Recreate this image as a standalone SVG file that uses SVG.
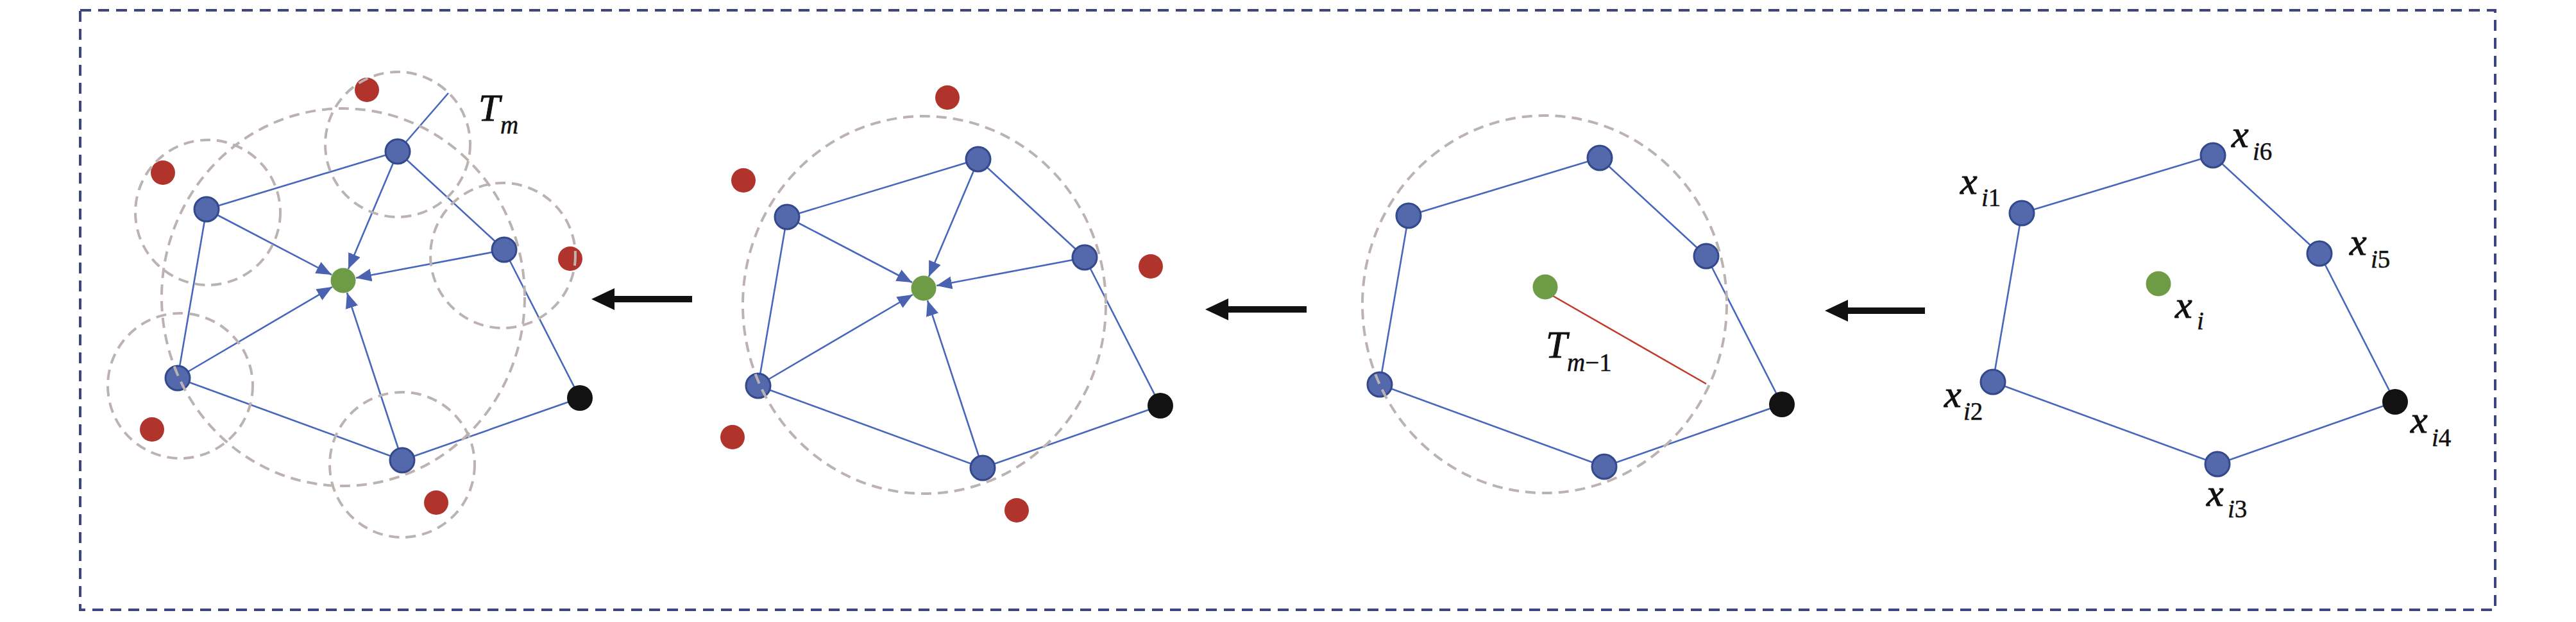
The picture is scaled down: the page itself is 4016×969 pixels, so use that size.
<svg xmlns="http://www.w3.org/2000/svg" width="4016" height="969" viewBox="0 0 4016 969">
<style>
.bg{fill:#ffffff}
.frame{fill:none;stroke:#3D4680;stroke-width:4;stroke-dasharray:17 11}
.edge{fill:none;stroke:#4767BE;stroke-width:2.6}
.arr{fill:none;stroke:#4767BE;stroke-width:2.6;marker-end:url(#ah)}
.blue{fill:#5468AC;stroke:#34488C;stroke-width:3}
.green{fill:#6E9B46}
.black{fill:#121212}
.red{fill:#B0342B}
.dash{fill:none;stroke:#BCB3B1;stroke-width:4;stroke-dasharray:16 10}
.rline{fill:none;stroke:#C0392B;stroke-width:2.5}
.big{fill:#111111}
.mi{font-family:"Liberation Serif","Times New Roman",serif;font-style:italic;font-size:60px;fill:#111;stroke:#111;stroke-width:1}
.sub{font-family:"Liberation Serif","Times New Roman",serif;font-size:39px;fill:#111;stroke:#111;stroke-width:0.5}
.it{font-style:italic}
.up{font-style:normal}
</style>
<defs>
<marker id="ah" markerUnits="userSpaceOnUse" markerWidth="26" markerHeight="22" refX="24" refY="10" orient="auto">
<path d="M0,0 L24,10 L0,20 z" fill="#4A62B0"/>
</marker>
</defs>
<rect class="bg" x="0" y="0" width="4016" height="969"/>
<rect class="frame" x="125" y="16" width="3765" height="934"/>

<!-- transition arrows -->
<g id="transition-arrows">
<path class="big" d="M1079,461 L958,461 L958,449 L922,466 L958,483 L958,471 L1079,471 z"/>
<path class="big" d="M2037,477 L1915,477 L1915,465 L1879,482 L1915,499 L1915,487 L2037,487 z"/>
<path class="big" d="M3001,479 L2881,479 L2881,467 L2845,484 L2881,501 L2881,489 L3001,489 z"/>
</g>

<!-- ================= PANEL 1 ================= -->
<g id="panel1">
<g id="p1-connectors">
<line class="edge" x1="322" y1="326" x2="620" y2="236"/>
<line class="edge" x1="620" y1="236" x2="786" y2="389"/>
<line class="edge" x1="786" y1="389" x2="904" y2="620"/>
<line class="edge" x1="904" y1="620" x2="627" y2="717"/>
<line class="edge" x1="627" y1="717" x2="277" y2="589"/>
<line class="edge" x1="277" y1="589" x2="322" y2="326"/>
<line class="edge" x1="620" y1="236" x2="699" y2="145"/>
<line class="arr" x1="339" y1="335" x2="517" y2="428"/>
<line class="arr" x1="613" y1="254" x2="543" y2="419"/>
<line class="arr" x1="767" y1="393" x2="555" y2="433"/>
<line class="arr" x1="293" y1="579" x2="518" y2="447"/>
<line class="arr" x1="621" y1="699" x2="541" y2="456"/>
</g>
<g id="p1-nodes">
<g id="p1-xi1"><circle class="blue" cx="322" cy="326" r="19"/></g>
<g id="p1-xi6"><circle class="blue" cx="620" cy="236" r="19"/></g>
<g id="p1-xi5"><circle class="blue" cx="786" cy="389" r="19"/></g>
<g id="p1-xi4"><circle class="black" cx="904" cy="620" r="20"/></g>
<g id="p1-xi3"><circle class="blue" cx="627" cy="717" r="19"/></g>
<g id="p1-xi2"><circle class="blue" cx="277" cy="589" r="19"/></g>
<g id="p1-xi"><circle class="green" cx="535" cy="437" r="19.5"/></g>
<g id="p1-r1"><circle class="red" cx="572" cy="140" r="19"/></g>
<g id="p1-r2"><circle class="red" cx="254" cy="269" r="19"/></g>
<g id="p1-r3"><circle class="red" cx="889" cy="403" r="19"/></g>
<g id="p1-r4"><circle class="red" cx="237" cy="669" r="19"/></g>
<g id="p1-r5"><circle class="red" cx="680" cy="783" r="19"/></g>
</g>
<g id="p1-circles">
<ellipse class="dash" cx="535" cy="463" rx="283" ry="294"/>
<circle class="dash" cx="620" cy="225" r="113"/>
<circle class="dash" cx="324" cy="331" r="113"/>
<circle class="dash" cx="784" cy="398" r="113"/>
<circle class="dash" cx="281" cy="601" r="113"/>
<circle class="dash" cx="627" cy="724" r="113"/>
</g>
<g id="p1-label">
<text class="mi" x="746" y="188">T</text>
<text class="sub it" x="780" y="208" font-style="italic">m</text>
</g>
</g>

<!-- ================= PANEL 2 ================= -->
<g id="panel2" transform="translate(905,12)">
<g id="p2-connectors">
<line class="edge" x1="322" y1="326" x2="620" y2="236"/>
<line class="edge" x1="620" y1="236" x2="786" y2="389"/>
<line class="edge" x1="786" y1="389" x2="904" y2="620"/>
<line class="edge" x1="904" y1="620" x2="627" y2="717"/>
<line class="edge" x1="627" y1="717" x2="277" y2="589"/>
<line class="edge" x1="277" y1="589" x2="322" y2="326"/>
<line class="arr" x1="339" y1="335" x2="517" y2="428"/>
<line class="arr" x1="613" y1="254" x2="543" y2="419"/>
<line class="arr" x1="767" y1="393" x2="555" y2="433"/>
<line class="arr" x1="293" y1="579" x2="518" y2="447"/>
<line class="arr" x1="621" y1="699" x2="541" y2="456"/>
</g>
<g id="p2-nodes">
<g id="p2-xi1"><circle class="blue" cx="322" cy="326" r="19"/></g>
<g id="p2-xi6"><circle class="blue" cx="620" cy="236" r="19"/></g>
<g id="p2-xi5"><circle class="blue" cx="786" cy="389" r="19"/></g>
<g id="p2-xi4"><circle class="black" cx="904" cy="620" r="20"/></g>
<g id="p2-xi3"><circle class="blue" cx="627" cy="717" r="19"/></g>
<g id="p2-xi2"><circle class="blue" cx="277" cy="589" r="19"/></g>
<g id="p2-xi"><circle class="green" cx="535" cy="437" r="19.5"/></g>
<g id="p2-r1"><circle class="red" cx="572" cy="140" r="19"/></g>
<g id="p2-r2"><circle class="red" cx="254" cy="269" r="19"/></g>
<g id="p2-r3"><circle class="red" cx="889" cy="403" r="19"/></g>
<g id="p2-r4"><circle class="red" cx="237" cy="669" r="19"/></g>
<g id="p2-r5"><circle class="red" cx="680" cy="783" r="19"/></g>
</g>
<g id="p2-circles">
<ellipse class="dash" cx="536" cy="463" rx="283" ry="294"/>
</g>
</g>

<!-- ================= PANEL 3 ================= -->
<g id="panel3" transform="translate(1874,10)">
<g id="p3-connectors">
<line class="edge" x1="322" y1="326" x2="620" y2="236"/>
<line class="edge" x1="620" y1="236" x2="786" y2="389"/>
<line class="edge" x1="786" y1="389" x2="904" y2="620"/>
<line class="edge" x1="904" y1="620" x2="627" y2="717"/>
<line class="edge" x1="627" y1="717" x2="277" y2="589"/>
<line class="edge" x1="277" y1="589" x2="322" y2="326"/>
<line class="rline" x1="547" y1="451" x2="786" y2="588"/>
</g>
<g id="p3-nodes">
<g id="p3-xi1"><circle class="blue" cx="322" cy="326" r="19"/></g>
<g id="p3-xi6"><circle class="blue" cx="620" cy="236" r="19"/></g>
<g id="p3-xi5"><circle class="blue" cx="786" cy="389" r="19"/></g>
<g id="p3-xi4"><circle class="black" cx="904" cy="620" r="20"/></g>
<g id="p3-xi3"><circle class="blue" cx="627" cy="717" r="19"/></g>
<g id="p3-xi2"><circle class="blue" cx="277" cy="589" r="19"/></g>
<g id="p3-xi"><circle class="green" cx="535" cy="437" r="19.5"/></g>
</g>
<g id="p3-circles">
<ellipse class="dash" cx="534" cy="464" rx="284" ry="294"/>
</g>
<g id="p3-label">
<text class="mi" x="536" y="547">T</text>
<text class="sub" x="569" y="568"><tspan class="it">m</tspan><tspan class="up">−1</tspan></text>
</g>
</g>

<!-- ================= PANEL 4 ================= -->
<g id="panel4" transform="translate(2830,6)">
<g id="p4-connectors">
<line class="edge" x1="322" y1="326" x2="620" y2="236"/>
<line class="edge" x1="620" y1="236" x2="786" y2="389"/>
<line class="edge" x1="786" y1="389" x2="904" y2="620"/>
<line class="edge" x1="904" y1="620" x2="627" y2="717"/>
<line class="edge" x1="627" y1="717" x2="277" y2="589"/>
<line class="edge" x1="277" y1="589" x2="322" y2="326"/>
</g>
<g id="p4-nodes">
<g id="p4-xi1"><circle class="blue" cx="322" cy="326" r="19"/>
<text class="mi" x="226" y="296">x</text><text class="sub" x="259" y="315"><tspan class="it">i</tspan><tspan class="up">1</tspan></text></g>
<g id="p4-xi6"><circle class="blue" cx="620" cy="236" r="19"/>
<text class="mi" x="649" y="223">x</text><text class="sub" x="682" y="243"><tspan class="it">i</tspan><tspan class="up">6</tspan></text></g>
<g id="p4-xi5"><circle class="blue" cx="786" cy="389" r="19"/>
<text class="mi" x="833" y="391">x</text><text class="sub" x="866" y="411"><tspan class="it">i</tspan><tspan class="up">5</tspan></text></g>
<g id="p4-xi4"><circle class="black" cx="904" cy="620" r="20"/>
<text class="mi" x="928" y="668">x</text><text class="sub" x="961" y="689"><tspan class="it">i</tspan><tspan class="up">4</tspan></text></g>
<g id="p4-xi3"><circle class="blue" cx="627" cy="717" r="19"/>
<text class="mi" x="610" y="782">x</text><text class="sub" x="643" y="800"><tspan class="it">i</tspan><tspan class="up">3</tspan></text></g>
<g id="p4-xi2"><circle class="blue" cx="277" cy="589" r="19"/>
<text class="mi" x="201" y="628">x</text><text class="sub" x="231" y="648"><tspan class="it">i</tspan><tspan class="up">2</tspan></text></g>
<g id="p4-xi"><circle class="green" cx="535" cy="436" r="19.5"/>
<text class="mi" x="561" y="489">x</text><text class="sub it" x="595" y="507">i</text></g>
</g>
</g>
</svg>
